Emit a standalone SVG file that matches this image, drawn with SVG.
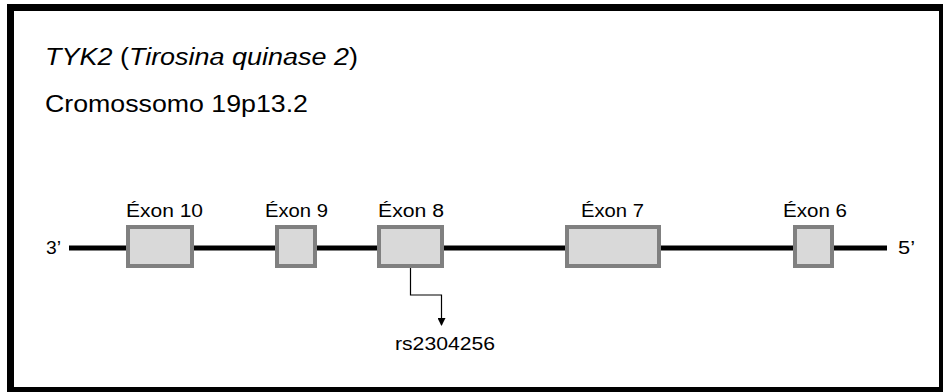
<svg xmlns="http://www.w3.org/2000/svg" width="943" height="392" viewBox="0 0 943 392">
  <style>
    text { font-family: "Liberation Sans", Arial, sans-serif; fill: #000; }
    .title { font-size: 23px; }
    .lbl { font-size: 18px; }
    .it { font-style: italic; }
    .exon { fill: #d9d9d9; stroke: #808080; stroke-width: 4; }
    .gene { stroke: #000; stroke-width: 5; fill: none; }
    .link { stroke: #000; stroke-width: 1.2; fill: none; }
  </style>
  <defs>
    <marker id="arrow" markerWidth="8" markerHeight="8" refX="7" refY="4" orient="auto" markerUnits="userSpaceOnUse">
      <path d="M0,0 L8,4 L0,8 Z" fill="#000"/>
    </marker>
  </defs>

  <rect width="943" height="392" fill="#fff"/>
  <!-- outer frame -->
  <rect x="10.5" y="7.5" width="932" height="383" fill="none" stroke="#000" stroke-width="7"/>

  <!-- heading -->
  <g id="heading">
    <text class="title" x="45" y="65" textLength="313" lengthAdjust="spacingAndGlyphs"><tspan class="it">TYK2</tspan> (<tspan class="it">Tirosina quinase  2</tspan>)</text>
    <text class="title" x="45" y="112" textLength="263" lengthAdjust="spacingAndGlyphs">Cromossomo 19p13.2</text>
  </g>

  <!-- gene backbone and strand ends -->
  <g id="gene">
    <line class="gene" x1="69" y1="248" x2="887" y2="248"/>
    <text class="lbl" x="46" y="254" textLength="15" lengthAdjust="spacingAndGlyphs">3’</text>
    <text class="lbl" x="898" y="254" textLength="17" lengthAdjust="spacingAndGlyphs">5’</text>
  </g>

  <g id="exon10">
    <rect class="exon" x="128" y="227" width="64" height="39"/>
    <text class="lbl" x="126" y="217" textLength="77" lengthAdjust="spacingAndGlyphs">Éxon 10</text>
  </g>
  <g id="exon9">
    <rect class="exon" x="277" y="227" width="38" height="39"/>
    <text class="lbl" x="265" y="217" textLength="63" lengthAdjust="spacingAndGlyphs">Éxon 9</text>
  </g>
  <g id="exon8">
    <rect class="exon" x="379" y="227" width="63" height="39"/>
    <text class="lbl" x="378" y="217" textLength="66" lengthAdjust="spacingAndGlyphs">Éxon 8</text>
  </g>
  <g id="exon7">
    <rect class="exon" x="567" y="227" width="92" height="39"/>
    <text class="lbl" x="581" y="217" textLength="63" lengthAdjust="spacingAndGlyphs">Éxon 7</text>
  </g>
  <g id="exon6">
    <rect class="exon" x="795" y="227" width="37" height="39"/>
    <text class="lbl" x="783" y="217" textLength="64" lengthAdjust="spacingAndGlyphs">Éxon 6</text>
  </g>

  <g id="snp">
    <text class="lbl" x="395" y="350" textLength="100" lengthAdjust="spacingAndGlyphs">rs2304256</text>
  </g>

  <!-- connector from exon 8 to the SNP label -->
  <g id="connectors">
    <path class="link" d="M410.5,268 V295 H441.5 V325" marker-end="url(#arrow)"/>
  </g>
</svg>
